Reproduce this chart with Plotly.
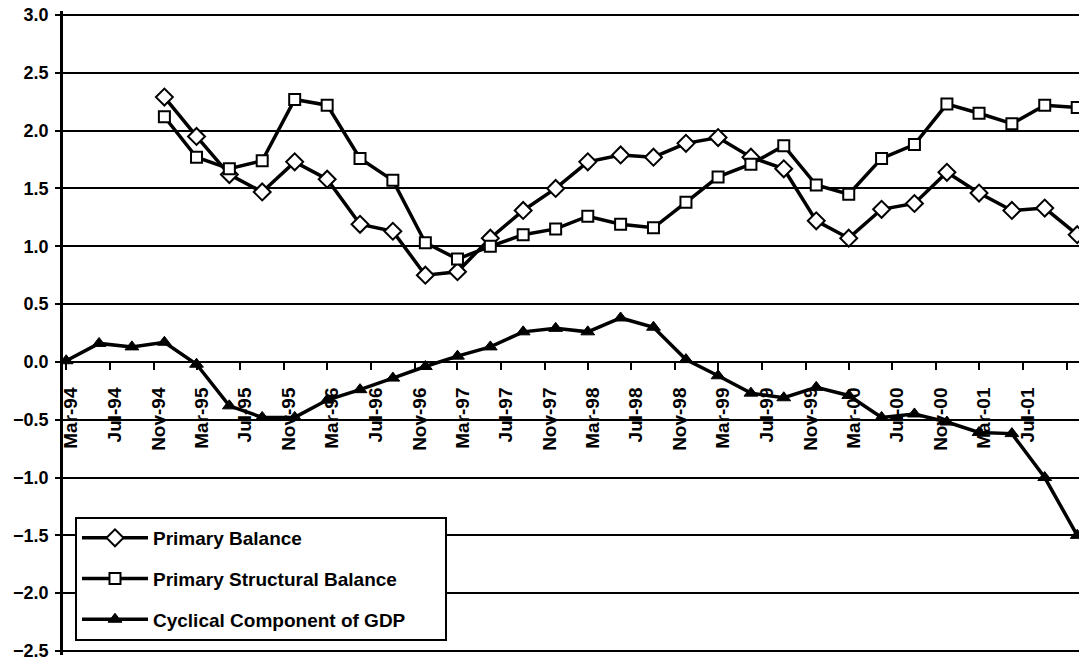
import plotly.graph_objects as go
import pandas as pd

quarters = pd.date_range("1994-03-01", "2001-12-01", freq="3MS").strftime("%Y-%m-%d").tolist()

primary_balance = [None, None, None,
                   2.29, 1.95, 1.62, 1.47, 1.73, 1.58, 1.19, 1.13, 0.75, 0.78,
                   1.07, 1.31, 1.50, 1.73, 1.79, 1.77, 1.89, 1.94, 1.77, 1.67,
                   1.22, 1.07, 1.32, 1.37, 1.64, 1.46, 1.31, 1.33, 1.10]

primary_structural = [None, None, None,
                      2.12, 1.77, 1.67, 1.74, 2.27, 2.22, 1.76, 1.57, 1.03, 0.89,
                      1.00, 1.10, 1.15, 1.26, 1.19, 1.16, 1.38, 1.60, 1.71, 1.87,
                      1.53, 1.45, 1.76, 1.88, 2.23, 2.15, 2.06, 2.22, 2.20]

cyclical = [0.01, 0.16, 0.13, 0.17, -0.02, -0.38, -0.48, -0.48, -0.33, -0.24,
            -0.14, -0.04, 0.05, 0.13, 0.26, 0.29, 0.26, 0.38, 0.30, 0.02,
            -0.12, -0.27, -0.31, -0.22, -0.29, -0.48, -0.45, -0.52, -0.61, -0.62,
            -1.00, -1.50]

names = ["Primary Balance", "Primary Structural Balance", "Cyclical Component of GDP"]

FONT = dict(family="Liberation Sans, Arial, sans-serif", size=19, color="black", weight="bold")
YFONT = dict(FONT, size=18)

Y_MIN, Y_MAX = -2.5, 3.0
PAD = 0.0346  # small padding so the edge gridlines are drawn
y_range = [Y_MIN - PAD, Y_MAX + PAD]

NBSP_PAD = "\u00a0" * 8  # widens the legend box like the original

fig = go.Figure()
fig.add_trace(go.Scatter(
    x=quarters, y=primary_balance, name=names[0], mode="lines+markers",
    line=dict(color="black", width=3.5),
    marker=dict(symbol="diamond", size=13, color="white", line=dict(color="black", width=2)),
    legendgroup="a", connectgaps=False))
fig.add_trace(go.Scatter(
    x=quarters, y=primary_structural, name=names[1] + NBSP_PAD, mode="lines+markers",
    line=dict(color="black", width=3.5),
    marker=dict(symbol="square", size=11, color="white", line=dict(color="black", width=2)),
    legendgroup="b", connectgaps=False))
fig.add_trace(go.Scatter(
    x=quarters, y=cyclical, name=names[2], mode="lines+markers",
    line=dict(color="black", width=3.5),
    marker=dict(symbol="triangle-up", size=12, color="black", line=dict(color="black", width=1)),
    legendgroup="c"))

fig.update_layout(
    width=1081, height=662,
    margin=dict(l=63, r=2, t=11, b=7, autoexpand=False),
    paper_bgcolor="white", plot_bgcolor="white",
    font=FONT,
    showlegend=True,
    legend=dict(
        x=0.0118, y=0.2143, xanchor="left", yanchor="top",
        bgcolor="white", bordercolor="black", borderwidth=2,
        font=FONT, traceorder="grouped", tracegroupgap=13,
        itemwidth=66,
    ),
    xaxis=dict(
        type="date",
        range=["1994-02-20", "2001-12-06"],
        tick0="1994-03-01", dtick="M4", tickformat="%b-%y",
        tickangle=-90,
        anchor="free", position=(0 - y_range[0]) / (y_range[1] - y_range[0]),
        showline=True, linecolor="black", linewidth=2,
        ticks="outside", ticklen=7, tickwidth=2, tickcolor="black",
        showgrid=False, zeroline=False, automargin=False,
        tickfont=FONT, ticklabelshift=5, ticklabelstandoff=10,
    ),
    yaxis=dict(
        range=y_range, dtick=0.5, tick0=0, tickformat=".1f",
        showgrid=True, gridcolor="black", gridwidth=1.5,
        zeroline=True, zerolinecolor="black", zerolinewidth=2,
        showline=True, linecolor="black", linewidth=2.5,
        ticks="outside", ticklen=5, tickwidth=2, tickcolor="black",
        automargin=False,
        tickfont=YFONT, ticklabelstandoff=3, ticklabeloverflow="allow",
    ),
)

fig.write_html("out.html", config={"displayModeBar": False},
               post_script="document.body.style.margin='0px';")
